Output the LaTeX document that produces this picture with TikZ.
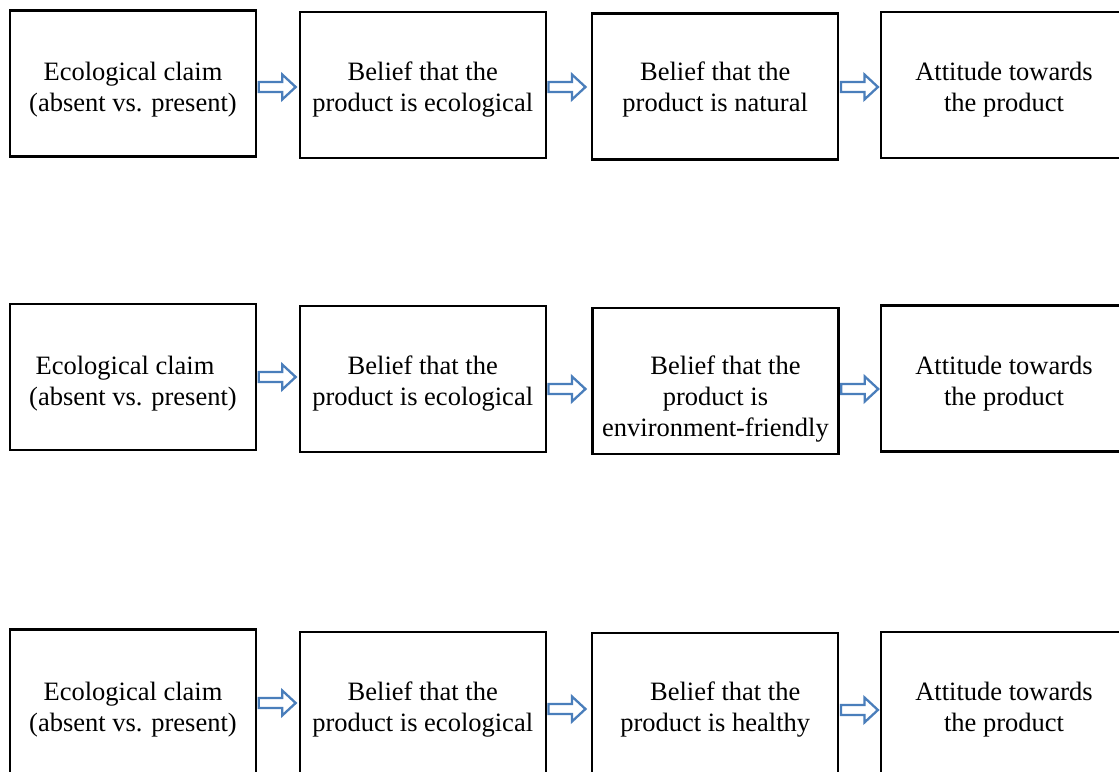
\documentclass[tikz,border=0pt]{standalone}
\usepackage{fontspec}
\setmainfont{Liberation Serif}
\usetikzlibrary{calc}
\definecolor{arrowblue}{HTML}{4A7EBB}
\newcommand\bxt[2]{\parbox[c][146pt][t]{246pt}{\centering\vspace*{#1pt}\strut #2\par}}
\begin{document}
\begin{tikzpicture}[x=1pt,y=-1pt,
  box/.style={draw=black, line width=2.4pt, inner sep=0pt, minimum width=246pt,
    minimum height=146pt, font=\fontsize{26.5pt}{31pt}\selectfont},
  blockarr/.style={draw=arrowblue, fill=white, line width=2.3pt, line join=miter,
    to path={let \p1=(\tikztostart) in
      (\x1+1.5,\y1+5) -- (\x1+25,\y1+5) -- (\x1+25,\y1+12.5) -- (\x1+38.5,\y1)
      -- (\x1+25,\y1-12.5) -- (\x1+25,\y1-5) -- (\x1+1.5,\y1-5) -- cycle}}]
\useasboundingbox (0,0) rectangle (1119,771);
\fill[white] (0,0) rectangle (1119,771);
\clip (0,0) rectangle (1119,771);

% Row 1
\node[box] (a1) at (133,83.5)   {\bxt{47.8}{Ecological claim\\(absent vs. present)}};
\node[box] (b1) at (422.75,85)  {\bxt{46.4}{Belief that the\\product is ecological}};
\node[box] (c1) at (715.2,86.3) {\bxt{45}{Belief that the\\product is natural}};
\node[box] (d1) at (1004,85)    {\bxt{46.3}{Attitude towards\\the product}};

% Row 2
\node[box] (a2) at (133,377)     {\bxt{48.3}{Ecological claim\hspace*{16pt}\mbox{}\\(absent vs. present)}};
\node[box] (b2) at (422.75,379)  {\bxt{46.3}{Belief that the\\product is ecological}};
\node[box] (c2) at (715.5,380.7) {\bxt{44.6}{\hspace*{20pt}Belief that the\\product is\\environment-friendly}};
\node[box] (d2) at (1004,378.5)  {\bxt{46.8}{Attitude towards\\the product}};

% Row 3
\node[box] (a3) at (133,702.3)   {\bxt{49}{Ecological claim\\(absent vs. present)}};
\node[box] (b3) at (422.75,704.7){\bxt{46.6}{Belief that the\\product is ecological}};
\node[box] (c3) at (715.2,705.7) {\bxt{45.6}{\hspace*{20pt}Belief that the\\product is healthy}};
\node[box] (d3) at (1004,704.7)  {\bxt{46.6}{Attitude towards\\the product}};

% Arrows
\path[blockarr] (a1.east |- 0,87) to (b1.west);
\path[blockarr] (b1.east |- 0,87) to (c1.west);
\path[blockarr] (c1.east |- 0,87) to (d1.west);

\path[blockarr] (a2.east |- 0,377) to (b2.west);
\path[blockarr] (b2.east |- 0,389) to (c2.west);
\path[blockarr] (c2.east |- 0,389) to (d2.west);

\path[blockarr] (a3.east |- 0,703) to (b3.west);
\path[blockarr] (b3.east |- 0,709) to (c3.west);
\path[blockarr] (c3.east |- 0,710) to (d3.west);
\end{tikzpicture}
\end{document}
